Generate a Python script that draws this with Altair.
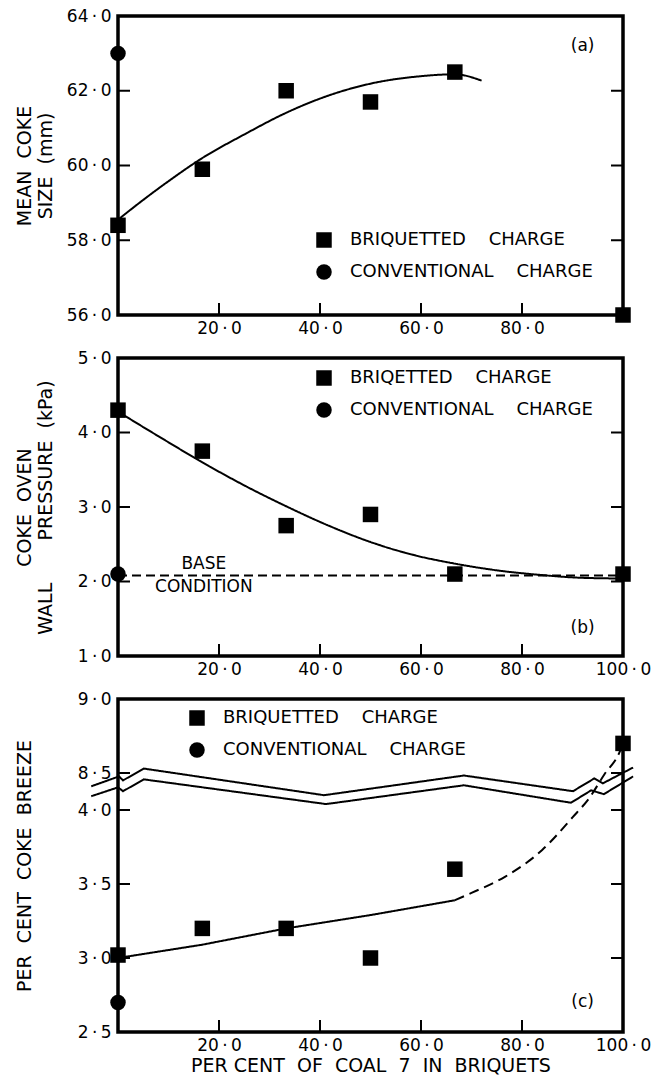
import altair as alt
import pandas as pd

FONT = "DejaVu Sans"
NB = "\u00a0"

# legend / series names
SQ_A = "BRIQUETTED" + NB * 4 + "CHARGE"
SQ_B = "BRIQETTED" + NB * 4 + "CHARGE"
CI = "CONVENTIONAL" + NB * 4 + "CHARGE"

# ---------------- panel (a): mean coke size ----------------
a_sq_x = [0, 16.7, 33.3, 50, 66.7, 100]
a_sq_y = [58.4, 59.9, 62.0, 61.7, 62.5, 56.0]
a_ci_x = [0]
a_ci_y = [63.0]
a_fit_x = [0, 5, 10, 16.7, 25, 33.3, 40, 50, 60, 66.7, 72]
a_fit_y = [58.55, 59.08, 59.58, 60.2, 60.83, 61.41, 61.79, 62.19, 62.39, 62.44, 62.27]
a_yticks = [56, 58, 60, 62, 64]
a_xticks = [20, 40, 60, 80]

# ---------------- panel (b): wall pressure ----------------
b_sq_x = [0, 16.7, 33.3, 50, 66.7, 100]
b_sq_y = [4.3, 3.75, 2.75, 2.9, 2.1, 2.1]
b_ci_x = [0]
b_ci_y = [2.1]
b_fit_x = [0, 8, 16.7, 25, 33.3, 41.7, 50, 58.3, 66.7, 75, 83.3, 91.7, 100]
b_fit_y = [4.28, 3.95, 3.6, 3.29, 3.01, 2.75, 2.53, 2.36, 2.24, 2.15, 2.09, 2.05, 2.04]
b_base_x = [0, 100]
b_base_y = [2.08, 2.08]
b_yticks = [1, 2, 3, 4, 5]
b_xticks = [20, 40, 60, 80, 100]

# ---------------- panel (c): coke breeze (broken axis 4.0 -> 8.5) ----------------
c_sq_x = [0, 16.7, 33.3, 50, 66.7, 100]
c_sq_y = [3.02, 3.2, 3.2, 3.0, 3.6, 8.7]
c_ci_x = [0]
c_ci_y = [2.7]
c_fit_x = [0, 16.7, 33.3, 50, 66.7]
c_fit_y = [3.0, 3.09, 3.2, 3.29, 3.39]
c_ext_x = [66.7, 70, 76.7, 84, 90, 93.3, 96.3, 99.3, 100]
c_ext_y = [3.39, 3.44, 3.55, 3.73, 3.95, 4.08, 4.24, 8.64, 8.70]
# axis-break symbol (drawn inside the compressed gap between 4.0 and 8.5)
c_brk_up_x = [-5.3, 0.2, 1, 5.1, 40.8, 68.5, 90.1, 94.3, 96, 102]
c_brk_up_y = [4.16, 4.227, 4.2, 4.28, 4.1, 4.233, 4.127, 4.213, 4.18, 4.287]
c_brk_lo_x = [-5.3, 0, 1, 5.1, 41.2, 68.5, 89.7, 93.7, 96.2, 102]
c_brk_lo_y = [4.093, 4.153, 4.127, 4.207, 4.04, 4.167, 4.049, 4.133, 4.107, 4.227]
c_yticks = [2.5, 3.0, 3.5, 4.0, 8.5, 9.0]
c_xticks = [20, 40, 60, 80, 100]
BREAK = "datum.v >= 8.5 ? datum.v - 4.25 : datum.v"

# panel annotations
a_notes = pd.DataFrame({"x": [92], "v": [63.2], "t": ["(a)"]})
b_notes = pd.DataFrame({"x": [92, 17, 17], "v": [1.38, 2.23, 1.92], "t": ["(b)", "BASE", "CONDITION"]})
c_notes = pd.DataFrame({"x": [92], "v": [2.70], "t": ["(c)"]})

DOT = "\u2009·\u2009"
LBL = "replace(format(datum.value, '.1f'), '.', '" + DOT + "')"
LBL_C = ("replace(format(datum.value >= 4.2 ? datum.value + 4.25 : datum.value, '.1f'), '.', '"
         + DOT + "')")

W = 505
PSIZE = 240
# inward frame ticks drawn as thin symbols (unit = sqrt(PSIZE)/2 px): 12 px long, 2 px thick
_L = 12 / (PSIZE ** 0.5 / 2)
_T = 1 / (PSIZE ** 0.5 / 2)
PATH_L = "M0,%.3fH%.3fV%.3fH0Z" % (-_T, _L, _T)
PATH_R = "M%.3f,%.3fH0V%.3fH%.3fZ" % (-_L, -_T, _T, -_L)
PATH_B = "M%.3f,0H%.3fV%.3fH%.3fZ" % (-_T, _T, -_L, -_T)


def pts_df(sx, sy, cx, cy, sname, yticks, xticks):
    inner_y = [v for v in yticks if v not in (yticks[0], yticks[-1])]
    inner_x = [v for v in xticks if v < 100]
    xs_ = list(sx) + list(cx) + [0] * len(inner_y) + [100] * len(inner_y) + list(inner_x)
    vs_ = list(sy) + list(cy) + list(inner_y) + list(inner_y) + [yticks[0]] * len(inner_x)
    ss_ = ([sname] * len(sx) + [CI] * len(cx) + ["tL"] * len(inner_y) + ["tR"] * len(inner_y)
           + ["tB"] * len(inner_x))
    return pd.DataFrame({"x": xs_, "v": vs_, "s": ss_})


def line_df(xs, ys):
    return pd.DataFrame({"x": xs, "v": ys})


def make_panel(sx, sy, cx, cy, lines, notes, ydom, yticks, ylabel_expr, xticks, ytitle, height,
               legend_xy, sname, xtitle=None, calc=None):
    xs = alt.Scale(domain=[0, 100], nice=False, zero=False)
    ys = alt.Scale(domain=ydom, nice=False, zero=False)

    def add_calc(ch):
        return ch.transform_calculate(yp=calc) if calc else ch

    yfield = "yp:Q" if calc else "v:Q"
    yt_plot = [(v - 4.25 if (calc and v >= 8.5) else v) for v in yticks]

    x_lab = alt.Axis(orient="bottom", values=xticks, labelExpr=LBL, tickSize=0, domain=False,
                     grid=False, labelPadding=5, labelFlush=False, labelOverlap=False,
                     title=xtitle, titlePadding=3, titleFontWeight="normal")
    y_lab = alt.Axis(orient="left", values=yt_plot, labelExpr=ylabel_expr, tickSize=0, domain=False,
                     grid=False, labelPadding=7, labelOverlap=False, labelFlush=False,
                     title=ytitle, titleX=-84, titleFontWeight="normal", titleLineHeight=21)

    X = alt.X("x:Q", scale=xs, axis=x_lab)
    Y = alt.Y(yfield, scale=ys, axis=y_lab)

    pts = pts_df(sx, sy, cx, cy, sname, yticks, xticks)
    points = add_calc(alt.Chart(pts)).mark_point(filled=True, color="black", opacity=1, size=PSIZE).encode(
        x=X, y=Y,
        shape=alt.Shape("s:N", scale=alt.Scale(domain=[sname, CI, "tL", "tR", "tB"],
                                               range=["square", "circle", PATH_L, PATH_R, PATH_B]),
                        legend=alt.Legend(orient="none", legendX=legend_xy[0], legendY=legend_xy[1],
                                          values=[sname, CI],
                                          title=None, labelFontSize=18, labelFont=FONT,
                                          symbolSize=PSIZE, symbolFillColor="black",
                                          symbolStrokeColor="black", rowPadding=10,
                                          labelOffset=17, padding=0, labelColor="black",
                                          labelLimit=400)),
    )

    layers = []
    for df, dash, interp in lines:
        layers.append(add_calc(alt.Chart(df)).mark_line(
            color="black", strokeWidth=2, strokeDash=dash, interpolate=interp).encode(x=X, y=Y))

    txt = add_calc(alt.Chart(notes)).mark_text(font=FONT, fontSize=17, color="black").encode(
        x=X, y=Y, text="t:N",
    )

    return alt.layer(points, *layers, txt).properties(width=W, height=height)


pa = make_panel(
    a_sq_x, a_sq_y, a_ci_x, a_ci_y,
    [(line_df(a_fit_x, a_fit_y), [1, 0], "monotone")],
    a_notes, [56, 64], a_yticks, LBL, a_xticks,
    ["MEAN" + NB * 2 + "COKE", "SIZE" + NB * 2 + "(mm)"], 299, (197, 215), SQ_A,
)

pb = make_panel(
    b_sq_x, b_sq_y, b_ci_x, b_ci_y,
    [(line_df(b_fit_x, b_fit_y), [1, 0], "monotone"), (line_df(b_base_x, b_base_y), [9, 5], "linear")],
    b_notes, [1, 5], b_yticks, LBL, b_xticks,
    ["COKE" + NB * 2 + "OVEN", "WALL" + NB * 7 + "PRESSURE" + NB * 2 + "(kPa)"], 298, (197, 11), SQ_B,
)

pc = make_panel(
    c_sq_x, c_sq_y, c_ci_x, c_ci_y,
    [(line_df(c_fit_x, c_fit_y), [1, 0], "linear"), (line_df(c_ext_x, c_ext_y), [10, 6], "monotone"),
     (line_df(c_brk_up_x, c_brk_up_y), [1, 0], "linear"),
     (line_df(c_brk_lo_x, c_brk_lo_y), [1, 0], "linear")],
    c_notes, [2.5, 4.75], c_yticks, LBL_C, c_xticks,
    "PER" + NB * 2 + "CENT" + NB * 2 + "COKE" + NB * 2 + "BREEZE", 333, (70, 10), SQ_A,
    xtitle="PER" + NB + "CENT" + NB * 2 + "OF" + NB * 2 + "COAL" + NB * 2 + "7" + NB * 2 + "IN"
           + NB * 2 + "BRIQUETS",
    calc=BREAK,
)

chart = alt.vconcat(pa, pb, pc, spacing=9).resolve_scale(
    x="independent", y="independent", shape="independent"
).resolve_legend(shape="independent").properties(
    padding={"left": 13, "top": 5, "right": 0, "bottom": 0}, background="white"
).configure(font=FONT).configure_view(
    stroke="black", strokeWidth=3.5
).configure_axis(
    labelFont=FONT, labelFontSize=17, labelColor="black", titleFont=FONT, titleFontSize=19,
    titleColor="black",
)

chart.save("out.html", embed_options={"renderer": "svg", "actions": False})
